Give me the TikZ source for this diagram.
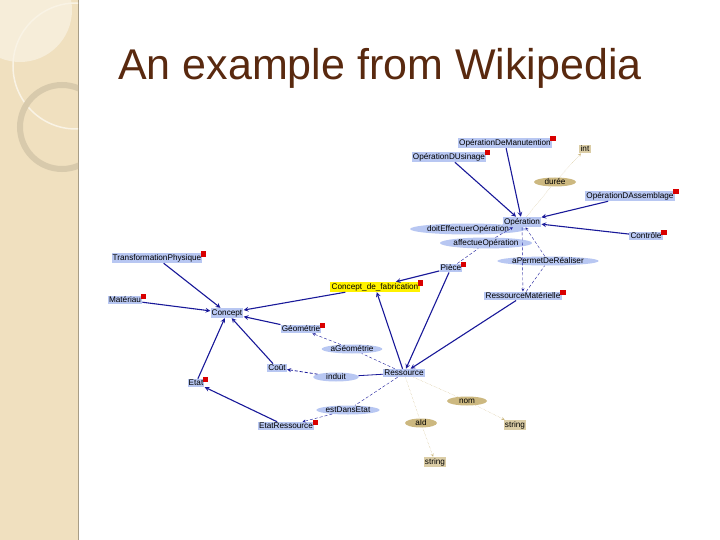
\documentclass[tikz,border=0pt]{standalone}
\usepackage{fontspec}
\setmainfont{Liberation Sans}
\usetikzlibrary{shapes,arrows}
\definecolor{classblue}{rgb}{0.72, 0.78, 0.95}
\definecolor{navy}{rgb}{0.10, 0.10, 0.60}
\definecolor{tan}{rgb}{0.80, 0.72, 0.50}
\definecolor{paper}{rgb}{0.94, 0.88, 0.75}
\definecolor{titlebrown}{rgb}{0.35, 0.16, 0.06}
\tikzset {
        cls/.style={rectangle, fill=classblue, inner sep=1.2pt, font=\fontsize{8.2}{9}\selectfont},
        prop/.style={ellipse, fill=classblue, inner sep=0pt, minimum height=9pt, font=\fontsize{8.2}{9}\selectfont},
        dtype/.style={rectangle, fill=tan!70, inner sep=1.2pt, font=\fontsize{8.2}{9}\selectfont},
        dprop/.style={ellipse, fill=tan, inner sep=0pt, minimum height=9pt, font=\fontsize{8.2}{9}\selectfont},
        badge/.style={rectangle, fill=red!85!black, minimum size=5.5pt, inner sep=0pt},
        isa/.style={-stealth, navy, line width=1.1pt},
        rel/.style={navy, densely dashed, thin},
        datarel/.style={tan, thin, densely dotted}
}
\begin{document}
\begin{tikzpicture}[x=1pt,y=-1pt]
            \useasboundingbox (0,0) rectangle (720,540);
            % slide background
            \fill[paper] (0,0) rectangle (78,540);
            \draw[paper!70!black, line width=1pt] (78,0) -- (78,540);
            \begin{scope}
                \clip (0,0) rectangle (78,540);
                \fill[white!40!paper] (20,10) circle (52);
                \draw[white!60!paper, line width=1.5pt] (76,66) circle (63);
                \draw[paper!90!black, line width=6pt] (62,127) circle (42);
            \end{scope}
            \node[titlebrown, font=\fontsize{43}{50}\selectfont] (Title) at (380,68) {An example from Wikipedia};

            % classes
            \node[cls] (OperationDeManutention) at (505,143) {OpérationDeManutention};
            \node[cls] (OperationDUsinage) at (449,157) {OpérationDUsinage};
            \node[cls] (OperationDAssemblage) at (630,196) {OpérationDAssemblage};
            \node[cls] (Operation) at (522,222) {Opération};
            \node[cls] (Controle) at (646,236) {Contrôle};
            \node[cls] (Piece) at (451,268) {Pièce};
            \node[cls] (TransformationPhysique) at (157,258) {TransformationPhysique};
            \node[cls, fill=yellow] (ConceptDeFabrication) at (375,287) {Concept\_de\_fabrication};
            \node[cls] (RessourceMaterielle) at (523,296) {RessourceMatérielle};
            \node[cls] (Materiau) at (125,300) {Matériau};
            \node[cls] (Concept) at (227,313) {Concept};
            \node[cls] (Geometrie) at (301,329) {Géométrie};
            \node[cls] (Cout) at (277,368) {Coût};
            \node[cls] (Ressource) at (404,373) {Ressource};
            \node[cls] (Etat) at (196,383) {Etat};
            \node[cls] (EtatRessource) at (286,426) {EtatRessource};

            % datatypes
            \node[dtype] (Int) at (585,149) {int};
            \node[dtype] (StringNom) at (515,425) {string};
            \node[dtype] (StringId) at (435,462) {string};

            % properties
            \node[dprop, minimum width=42pt] (Duree) at (555,182) {durée};
            \node[prop] (DoitEffectuerOperation) at (468,229) {doitEffectuerOpération};
            \node[prop] (AffectueOperation) at (486,243) {affectueOpération};
            \node[prop] (APermetDeRealiser) at (548,261) {aPermetDeRéaliser};
            \node[prop] (AGeometrie) at (352,349) {aGéométrie};
            \node[prop, minimum width=46pt] (Induit) at (336,377) {induit};
            \node[prop] (EstDansEtat) at (348,410) {estDansEtat};
            \node[dprop, minimum width=40pt] (Nom) at (467,401) {nom};
            \node[dprop, minimum width=32pt] (AId) at (421,423) {aId};

            % badges
            \foreach \cname in {OperationDeManutention, OperationDUsinage, OperationDAssemblage, Controle, Piece, TransformationPhysique, ConceptDeFabrication, RessourceMaterielle, Materiau, Geometrie, Etat, EtatRessource}
                \node[badge, anchor=center] at ([xshift=1pt,yshift=-1pt]\cname.north east) {};

            % subclass links
            \draw[isa] (OperationDeManutention) -- (Operation);
            \draw[isa] (OperationDUsinage) -- (Operation);
            \draw[isa] (OperationDAssemblage) -- (Operation);
            \draw[isa] (Controle) -- (Operation);
            \draw[isa] (Piece) -- (ConceptDeFabrication);
            \draw[isa] (Piece) -- (Ressource);
            \draw[isa] (RessourceMaterielle) -- (Ressource);
            \draw[isa] (Ressource) -- (ConceptDeFabrication);
            \draw[isa] (ConceptDeFabrication) -- (Concept);
            \draw[isa] (TransformationPhysique) -- (Concept);
            \draw[isa] (Materiau) -- (Concept);
            \draw[isa] (Geometrie) -- (Concept);
            \draw[isa] (Cout) -- (Concept);
            \draw[isa] (Etat) -- (Concept);
            \draw[isa] (EtatRessource) -- (Etat);

            % object properties
            \draw[rel] (Piece) -- (AffectueOperation);
            \draw[rel, -stealth] (AffectueOperation) -- (Operation);
            \draw[rel] (Operation) -- (DoitEffectuerOperation);
            \draw[rel, -stealth] (Operation) -- (RessourceMaterielle);
            \draw[rel] (RessourceMaterielle) -- (APermetDeRealiser);
            \draw[rel, -stealth] (APermetDeRealiser) -- (Operation);
            \draw[rel] (Ressource) -- (AGeometrie);
            \draw[rel, -stealth] (AGeometrie) -- (Geometrie);
            \draw[navy, thick] (Ressource) -- (Induit);
            \draw[rel, -stealth, thick] (Induit) -- (Cout);
            \draw[rel] (Ressource) -- (EstDansEtat);
            \draw[rel, -stealth] (EstDansEtat) -- (EtatRessource);

            % datatype properties
            \draw[datarel] (Operation) -- (Duree);
            \draw[datarel, -stealth] (Duree) -- (Int);
            \draw[datarel] (Ressource) -- (Nom);
            \draw[datarel, -stealth] (Nom) -- (StringNom);
            \draw[datarel] (Ressource) -- (AId);
            \draw[datarel, -stealth] (AId) -- (StringId);
        \end{tikzpicture}
\end{document}
